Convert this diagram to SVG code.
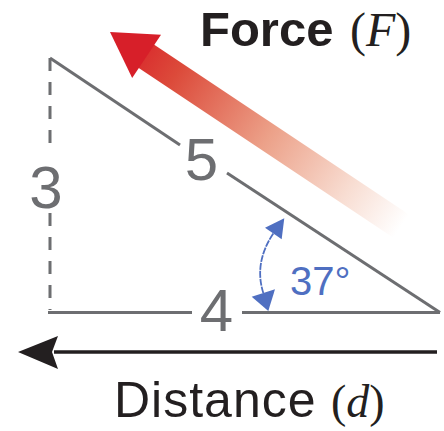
<svg xmlns="http://www.w3.org/2000/svg" width="444" height="431" viewBox="0 0 444 431">
<defs>
<style>
.edge{stroke:#6d6e71;stroke-width:3;fill:none}
.dash{stroke:#6d6e71;stroke-width:3;fill:none;stroke-dasharray:13 11}
.num{font-family:"Liberation Sans",Arial,sans-serif;font-size:60px;fill:#6d6e71;text-anchor:middle}
.blue{fill:#4f6fc1}
.lbl{font-family:"Liberation Sans",Arial,sans-serif;fill:#231f20}
.math{font-family:"Liberation Serif","Times New Roman",serif;fill:#231f20}
</style>
<linearGradient id="fade" gradientUnits="userSpaceOnUse" x1="30" y1="0" x2="350" y2="0">
<stop offset="0" stop-color="#d9292c"/>
<stop offset="0.15" stop-color="#dc4a3a"/>
<stop offset="0.5" stop-color="#eca189"/>
<stop offset="0.8" stop-color="#f8ddd2"/>
<stop offset="1" stop-color="#ffffff"/>
</linearGradient>
</defs>
<rect width="444" height="431" fill="#ffffff"/>
<g id="force-arrow" transform="translate(110,32) rotate(33.7)">
<rect x="38" y="-14" width="312" height="28" fill="url(#fade)"/>
<polygon points="0,0 44,-26 44,26" fill="#d71f29"/>
</g>
<g id="connectors">
<line class="dash" x1="50" y1="58" x2="50" y2="150"/>
<line class="dash" x1="50" y1="213" x2="50" y2="310"/>
<line class="edge" x1="50" y1="58" x2="180" y2="145"/>
<line class="edge" x1="227" y1="173" x2="440" y2="312.5"/>
<line class="edge" x1="48" y1="312.5" x2="192" y2="312.5"/>
<line class="edge" x1="242" y1="312.5" x2="440" y2="312.5"/>
</g>
<g id="side-3"><text class="num" x="46" y="208">3</text></g>
<g id="side-5"><text class="num" x="201.5" y="180">5</text></g>
<g id="side-4"><text class="num" x="216.5" y="331">4</text></g>
<g id="angle">
<path d="M273.3,233.5 Q253.7,262.75 263.3,293" fill="none" stroke="#4f6fc1" stroke-width="1.8" stroke-dasharray="7 1"/>
<polygon class="blue" points="284.3,218.3 265,227.7 281.7,239.3"/>
<polygon class="blue" points="268.3,311 251.7,296.7 275,289.3"/>
<text x="290" y="295" font-family="Liberation Sans,Arial,sans-serif" font-size="40" fill="#4f6fc1">37°</text>
</g>
<g id="distance-arrow">
<line x1="437" y1="352" x2="54" y2="352" stroke="#231f20" stroke-width="3.5"/>
<polygon points="18,352 58,336 52,352 58,369" fill="#231f20"/>
</g>
<g id="force-label">
<text class="lbl" x="200" y="46" font-size="49" font-weight="bold">Force</text>
<text class="math" x="350" y="46" font-size="48">(<tspan font-style="italic">F</tspan>)</text>
</g>
<g id="distance-label">
<text class="lbl" x="114" y="417" font-size="50" letter-spacing="1">Distance</text>
<text class="math" x="331" y="417" font-size="46">(<tspan font-style="italic">d</tspan>)</text>
</g>
</svg>
